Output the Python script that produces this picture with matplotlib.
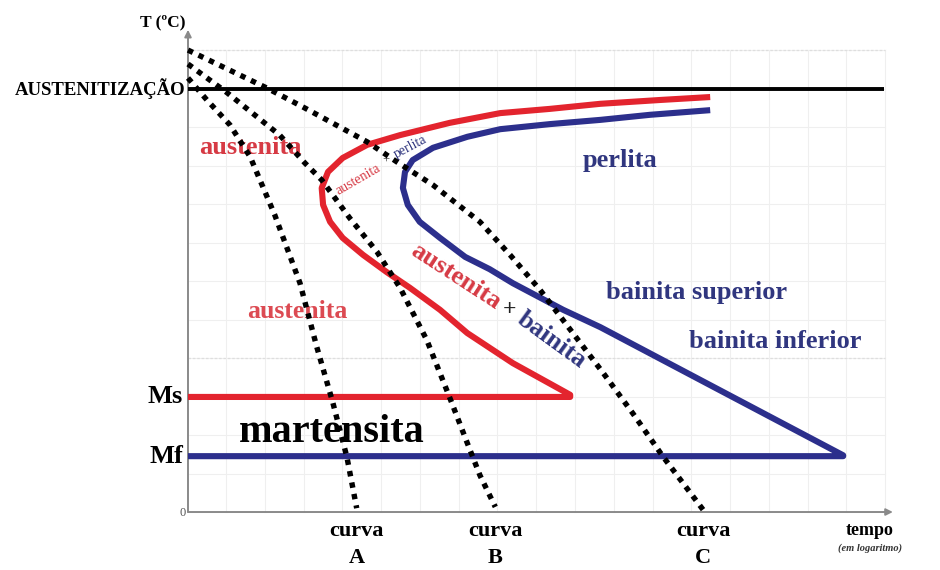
import matplotlib
matplotlib.use('Agg')
import matplotlib.pyplot as plt
import numpy as np

# ---------------- data (time in arbitrary log units, temperature in arbitrary units) -------------
T_aust = 100.0
T_ms = 27.2
T_mf = 13.2

# start of transformation (red C-curve)
start_t = [74.6, 67.4, 58.9, 51.7, 44.6, 37.4, 30.3, 25.6, 22.1, 20.0, 19.1, 19.3, 20.3, 22.1,
           25.0, 28.4, 31.7, 36.0, 39.9, 46.4, 54.6]
start_T = [98.1, 97.4, 96.5, 95.3, 94.3, 92.0, 89.1, 86.8, 83.7, 80.4, 76.6, 72.6, 68.6, 64.8,
           60.8, 56.7, 53.0, 47.8, 42.3, 35.2, 27.7]

# end of transformation (blue C-curve)
end_t = [74.6, 66.0, 58.9, 51.7, 44.6, 39.9, 35.0, 32.1, 31.0, 30.7, 31.4, 33.1, 36.0, 39.6,
         43.1, 46.4, 53.6, 58.9, 93.6]
end_T = [95.0, 93.9, 92.7, 91.7, 90.5, 88.7, 86.1, 83.2, 80.4, 76.6, 72.6, 68.6, 64.8, 60.3,
         57.4, 54.1, 47.8, 43.7, 13.4]

# cooling curves
curveA_t = [0, 2.7, 6.0, 8.9, 12.4, 16.0, 18.4, 20.7, 22.7, 24.1]
curveA_T = [102.6, 97.4, 91.5, 83.9, 70.2, 54.1, 39.0, 25.8, 13.0, 0.9]
curveB_t = [0, 5.6, 13.1, 16.7, 19.1, 23.1, 27.0, 30.3, 34.1, 37.4, 39.9, 41.7, 43.9]
curveB_T = [105.9, 99.1, 89.1, 82.5, 78.5, 69.5, 61.5, 53.0, 40.7, 27.0, 16.3, 8.7, 1.2]
curveC_t = [0, 11.3, 16.7, 25.6, 29.9, 35.0, 41.7, 46.0, 50.3, 59.3, 63.6, 67.9, 73.6]
curveC_T = [109.2, 100.2, 95.5, 87.5, 82.7, 77.3, 68.6, 60.8, 52.5, 32.9, 23.2, 13.0, 0.5]
curve_labels = ['A', 'B', 'C']

RED = '#e3242e'
BLUE = '#2c2f8c'
RED_TXT = '#d63a44'
BLUE_TXT = '#30367f'
SERIF = 'Liberation Serif'

fig = plt.figure(figsize=(9.4, 5.7), dpi=100)
ax = fig.add_axes([0, 0, 1, 1])
ax.set_xlim(-26.857, 107.43)
ax.set_ylim(-13.71, 121.04)
ax.axis('off')

# faint background grid
for gy in np.arange(0, 110, 9.1):
    ax.plot([0, 99.6], [gy, gy], color='#efefef', lw=0.8, zorder=0)
for gx in np.arange(5.43, 100, 5.54):
    ax.plot([gx, gx], [0, 109.2], color='#efefef', lw=0.8, zorder=0)
for gy in [109.2, 36.4]:
    ax.plot([0, 99.6], [gy, gy], color='#dedede', lw=0.9, ls=(0, (2, 1.5)), zorder=0)

# axes with arrows
ax.annotate('', xy=(0, 114.0), xytext=(0, 0),
            arrowprops=dict(arrowstyle='-|>', color='#8a8a8a', lw=1.4,
                            mutation_scale=10, shrinkA=0, shrinkB=0), zorder=1)
ax.annotate('', xy=(100.7, 0), xytext=(0, 0),
            arrowprops=dict(arrowstyle='-|>', color='#8a8a8a', lw=1.4,
                            mutation_scale=10, shrinkA=0, shrinkB=0), zorder=1)

# austenitization line
ax.plot([0, 99.5], [T_aust, T_aust], color='black', lw=2.8, solid_capstyle='butt', zorder=2)

# Ms / Mf and C-curves
ax.plot(start_t + [start_t[-1], 0], start_T + [T_ms, T_ms], color=RED, lw=4.4,
        solid_joinstyle='round', solid_capstyle='butt', zorder=3)
ax.plot(end_t + [end_t[-1], 0], end_T + [T_mf, T_mf], color=BLUE, lw=4.4,
        solid_joinstyle='round', solid_capstyle='butt', zorder=3)

# cooling curves (dotted)
for ct, cT in [(curveA_t, curveA_T), (curveB_t, curveB_T), (curveC_t, curveC_T)]:
    ax.plot(ct, cT, color='black', lw=3.9, ls=(0, (1, 1.15)), dash_capstyle='butt',
            solid_joinstyle='round', zorder=4)

# axis labels
ax.text(-3.6, 115.8, 'T (ºC)', family=SERIF, weight='bold', fontsize=12.5, ha='center', va='center')
ax.text(-0.4, T_aust, 'AUSTENITIZAÇÃO', family=SERIF, weight='bold', fontsize=13.5, ha='right', va='center')
ax.text(-0.7, T_ms, 'Ms', family=SERIF, weight='bold', fontsize=19, ha='right', va='center')
ax.text(-0.7, T_mf, 'Mf', family=SERIF, weight='bold', fontsize=19, ha='right', va='center')
ax.text(-0.3, -0.3, '0', family=SERIF, fontsize=9, ha='right', va='center', color='#555555')

for lbl, ct in zip(curve_labels, [curveA_t, curveB_t, curveC_t]):
    ax.text(ct[-1], -4.6, 'curva', family=SERIF, weight='bold', fontsize=16, ha='center', va='center')
    ax.text(ct[-1], -10.9, lbl, family=SERIF, weight='bold', fontsize=16, ha='center', va='center')

ax.text(97.4, -4.4, 'tempo', family=SERIF, weight='bold', fontsize=13, ha='center', va='center')
ax.text(97.4, -8.5, '(em logaritmo)', family=SERIF, style='italic', weight='bold', fontsize=7.5,
        ha='center', va='center', color='#333333')

# region labels
ax.text(8.9, 86.1, 'austenita', family=SERIF, weight='bold', fontsize=19, color=RED_TXT, ha='center', va='center')
ax.text(15.6, 47.3, 'austenita', family=SERIF, weight='bold', fontsize=18.5, color='#dc4a52', ha='center', va='center')
ax.text(20.6, 18.7, 'martensita', family=SERIF, weight='bold', fontsize=29, color='black', ha='center', va='center')
ax.text(61.7, 83.2, 'perlita', family=SERIF, weight='bold', fontsize=19, color=BLUE_TXT, ha='center', va='center')
ax.text(72.7, 51.8, 'bainita superior', family=SERIF, weight='bold', fontsize=19, color=BLUE_TXT, ha='center', va='center')
ax.text(83.9, 40.4, 'bainita inferior', family=SERIF, weight='bold', fontsize=19, color=BLUE_TXT, ha='center', va='center')

ax.text(38.3, 55.8, 'austenita', family=SERIF, weight='bold', fontsize=19, color=RED_TXT,
        rotation=-33, ha='center', va='center', rotation_mode='anchor')
ax.text(46.0, 47.8, '+', family=SERIF, weight='bold', fontsize=17, color='#222222', ha='center', va='center')
ax.text(51.9, 40.6, 'bainita', family=SERIF, weight='bold', fontsize=19, color=BLUE_TXT,
        rotation=-36, ha='center', va='center', rotation_mode='anchor')

ax.text(24.3, 78.6, 'austenita', family=SERIF, fontsize=10, color=RED_TXT,
        rotation=30, ha='center', va='center', rotation_mode='anchor')
ax.text(28.3, 83.0, '+', family=SERIF, fontsize=9, color='#333333', ha='center', va='center')
ax.text(31.8, 86.4, 'perlita', family=SERIF, fontsize=10, color=BLUE_TXT,
        rotation=28, ha='center', va='center', rotation_mode='anchor')

fig.savefig('out.png', dpi=100)
